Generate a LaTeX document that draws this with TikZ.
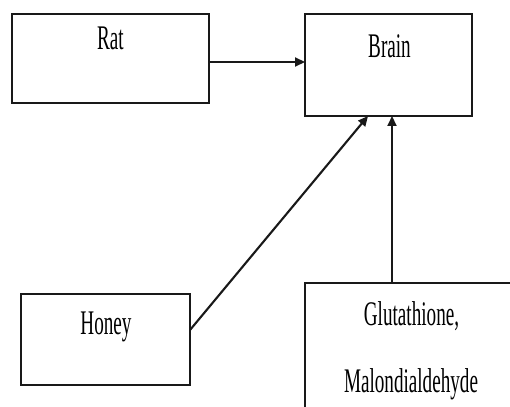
\documentclass[tikz,border=0pt]{standalone}
\usepackage{fontspec}
\setmainfont{Liberation Serif}
\usepackage{graphicx}
\usetikzlibrary{arrows.meta,calc}
\newcommand{\boxtxt}[1]{\scalebox{0.555}[1]{\fontsize{34.5}{41}\selectfont #1}}
\tikzset{
  blk/.style={draw=black!90, line width=2.1pt, inner sep=0pt, outer sep=0pt, fill=white},
  txt/.style={inner sep=0pt, anchor=base, text=black},
  arr/.style={draw=black!90, line width=2.1pt, -{Triangle[length=10pt,width=9pt]}, shorten >=0pt},
}
\begin{document}
\begin{tikzpicture}[x=1pt,y=-1pt]
\useasboundingbox (0,0) rectangle (510,406);
\clip (0,0) rectangle (510,406);
\fill[white] (0,0) rectangle (510,406);
% boxes
\node[blk, minimum width=197pt, minimum height=89pt] (rat) at (110.5,58.5) {};
\node[blk, minimum width=167pt, minimum height=102pt] (brain) at (388.5,65) {};
\node[blk, minimum width=169pt, minimum height=91pt] (honey) at (105.5,339.5) {};
\node[blk, minimum width=214pt, minimum height=160pt] (glut) at (412,363) {};
% texts
\node[txt] (trat) at (110.5,50) {\boxtxt{Rat}};
\node[txt] (tbrain) at (389.5,58) {\boxtxt{Brain}};
\node[txt] (thoney) at (106,334) {\boxtxt{Honey}};
\node[txt] (tglut) at (411.5,325) {\boxtxt{Glutathione,}};
\node[txt] (tmal) at (411,392) {\boxtxt{Malondialdehyde}};
% connectors
\draw[arr] (rat.east |- 0,62) -- (brain.west |- 0,62);
\draw[arr] (honey.east |- 0,330) -- (brain.south -| 368,0);
\draw[arr] (glut.north -| 392,0) -- (brain.south -| 392,0);
\end{tikzpicture}
\end{document}
